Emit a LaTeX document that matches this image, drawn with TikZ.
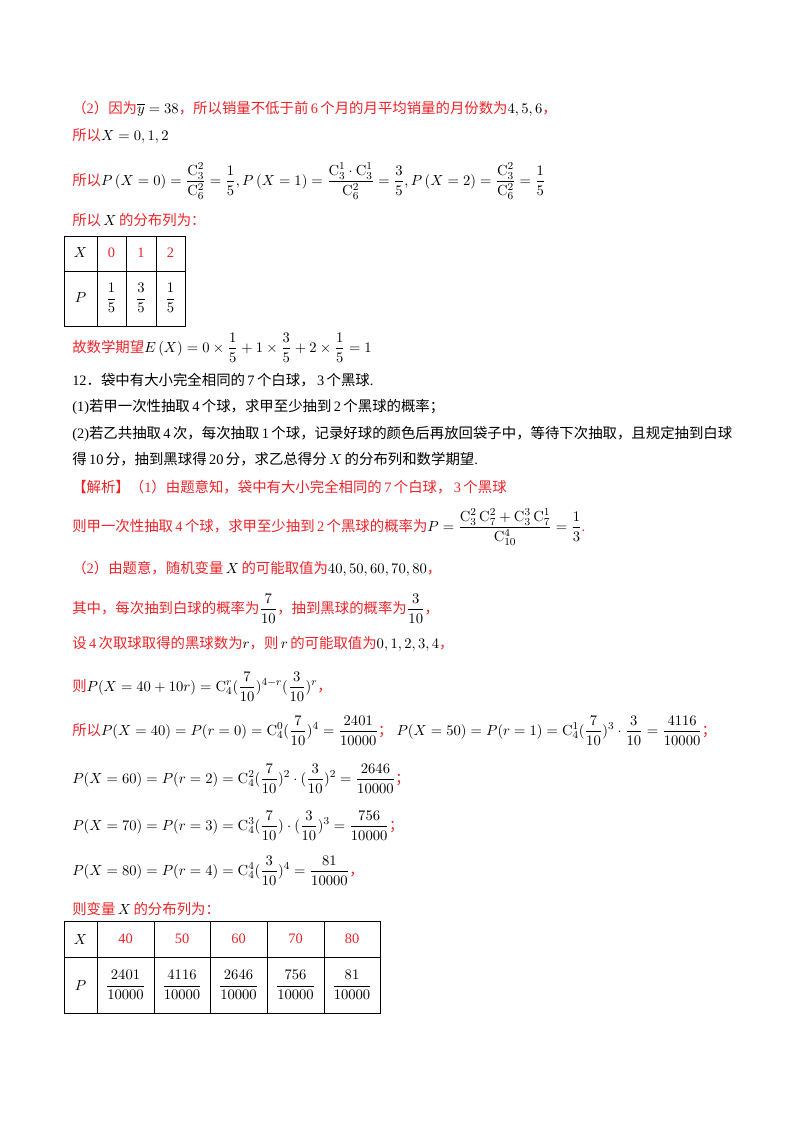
\documentclass[tikz,border=0pt]{standalone}
\usepackage{amsmath}
\usepackage[no-math]{fontspec}
\setmainfont{Noto Sans CJK SC}
\newfontfamily\lat{Liberation Serif}
\definecolor{hred}{RGB}{235,35,40}
\newcommand\n[1]{{\lat\,#1\,}}
\newcommand\m[1]{{\lat #1}}
\begin{document}
\begin{tikzpicture}[x=0.75pt,y=-0.75pt,
  tx/.style={anchor=base west,inner sep=0pt,font=\fontsize{10.8}{12}\selectfont},
  rt/.style={tx,text=hred},
  bt/.style={tx,text=black},
  cell/.style={anchor=center,inner sep=0pt,font=\fontsize{10.8}{12}\selectfont}]
\useasboundingbox (0,0) rectangle (800,1132);
\node[rt] (l1) at (72,113) {（\m{2}）因为\textcolor{black}{$\overline{y}=38$}，所以销量不低于前\n{6}个月的月平均销量的月份数为\textcolor{black}{$4,5,6$}，};
\node[rt] (l2) at (72,140) {所以\textcolor{black}{$X=0,1,2$}};
\node[rt] (l3) at (72,185) {所以\textcolor{black}{$P\left(X=0\right)=\dfrac{\mathrm{C}_3^2}{\mathrm{C}_6^2}=\dfrac15,P\left(X=1\right)=\dfrac{\mathrm{C}_3^1\cdot\mathrm{C}_3^1}{\mathrm{C}_6^2}=\dfrac35,P\left(X=2\right)=\dfrac{\mathrm{C}_3^2}{\mathrm{C}_6^2}=\dfrac15$}};
\node[rt] (l4) at (72,225) {所以\textcolor{black}{$\,X\,$}的分布列为：};
% table 1
\draw[line width=0.6pt] (64,236) rectangle (185,326);
\draw (64,271) -- (185,271);
\foreach \xx in {97,126,156} \draw (\xx,236) -- (\xx,326);
\node[cell] (a0) at (80.5,253) {$X$};
\node[cell,text=hred] (a1) at (111.5,253) {\m{0}};
\node[cell,text=hred] (a2) at (141,253) {\m{1}};
\node[cell,text=hred] (a3) at (170.5,253) {\m{2}};
\node[cell] (b0) at (80.5,298) {$P$};
\node[cell] (b1) at (111.5,298) {$\dfrac15$};
\node[cell] (b2) at (141,298) {$\dfrac35$};
\node[cell] (b3) at (170.5,298) {$\dfrac15$};
\node[rt] (l5) at (72,352) {故数学期望\textcolor{black}{$E\left(X\right)=0\times\dfrac15+1\times\dfrac35+2\times\dfrac15=1$}};
\node[bt] (q1) at (72,385) {\m{12}．袋中有大小完全相同的\n{7}个白球，\n{3}个黑球\m{.}};
\node[bt] (q2) at (72,411) {\m{(1)}若甲一次性抽取\n{4}个球，求甲至少抽到\n{2}个黑球的概率；};
\node[bt] (q3) at (72,438) {\m{(2)}若乙共抽取\n{4}次，每次抽取\n{1}个球，记录好球的颜色后再放回袋子中，等待下次抽取，且规定抽到白球};
\node[bt] (q4) at (72,464) {得\n{10}分，抽到黑球得\n{20}分，求乙总得分\,$X$\,的分布列和数学期望\m{.}};
\node[rt] (s1) at (72,492) {【解析】（\m{1}）由题意知，袋中有大小完全相同的\n{7}个白球，\n{3}个黑球};
\node[rt] (s2) at (72,531) {则甲一次性抽取\n{4}个球，求甲至少抽到\n{2}个黑球的概率为\textcolor{black}{$P=\dfrac{\mathrm{C}_3^2\,\mathrm{C}_7^2+\mathrm{C}_3^3\,\mathrm{C}_7^1}{\mathrm{C}_{10}^4}=\dfrac13$}\m{.}};
\node[rt] (s3) at (72,573) {（\m{2}）由题意，随机变量\textcolor{black}{$\,X\,$}的可能取值为\textcolor{black}{$40,50,60,70,80$}，};
\node[rt] (s4) at (72,613) {其中，每次抽到白球的概率为\textcolor{black}{$\dfrac{7}{10}$}，抽到黑球的概率为\textcolor{black}{$\dfrac{3}{10}$}，};
\node[rt] (s5) at (72,648) {设\n{4}次取球取得的黑球数为\textcolor{black}{$r$}，则\textcolor{black}{$\,r\,$}的可能取值为\textcolor{black}{$0,1,2,3,4$}，};
\node[rt] (s6) at (72,691) {则\textcolor{black}{$P(X=40+10r)=\mathrm{C}_4^r(\dfrac{7}{10})^{4-r}(\dfrac{3}{10})^r$}，};
\node[rt] (s7) at (72,735) {所以\textcolor{black}{$P(X=40)=P(r=0)=\mathrm{C}_4^0(\dfrac{7}{10})^4=\dfrac{2401}{10000}$}；\textcolor{black}{$\;P(X=50)=P(r=1)=\mathrm{C}_4^1(\dfrac{7}{10})^3\cdot\dfrac{3}{10}=\dfrac{4116}{10000}$}；};
\node[rt] (s8) at (72,783) {\textcolor{black}{$P(X=60)=P(r=2)=\mathrm{C}_4^2(\dfrac{7}{10})^2\cdot(\dfrac{3}{10})^2=\dfrac{2646}{10000}$}；};
\node[rt] (s9) at (72,830) {\textcolor{black}{$P(X=70)=P(r=3)=\mathrm{C}_4^3(\dfrac{7}{10})\cdot(\dfrac{3}{10})^3=\dfrac{756}{10000}$}；};
\node[rt] (s10) at (72,875) {\textcolor{black}{$P(X=80)=P(r=4)=\mathrm{C}_4^4(\dfrac{3}{10})^4=\dfrac{81}{10000}$}，};
\node[rt] (s11) at (72,914) {则变量\textcolor{black}{$\,X\,$}的分布列为：};
% table 2
\draw[line width=0.6pt] (64,921) rectangle (380,1013);
\draw (64,957) -- (380,957);
\foreach \xx in {97,154,210,267,324} \draw (\xx,921) -- (\xx,1013);
\node[cell] (c0) at (80.5,939) {$X$};
\node[cell,text=hred] (c1) at (125.5,939) {\m{40}};
\node[cell,text=hred] (c2) at (182,939) {\m{50}};
\node[cell,text=hred] (c3) at (238.5,939) {\m{60}};
\node[cell,text=hred] (c4) at (295.5,939) {\m{70}};
\node[cell,text=hred] (c5) at (352,939) {\m{80}};
\node[cell] (d0) at (80.5,985) {$P$};
\node[cell] (d1) at (125.5,985) {$\dfrac{2401}{10000}$};
\node[cell] (d2) at (182,985) {$\dfrac{4116}{10000}$};
\node[cell] (d3) at (238.5,985) {$\dfrac{2646}{10000}$};
\node[cell] (d4) at (295.5,985) {$\dfrac{756}{10000}$};
\node[cell] (d5) at (352,985) {$\dfrac{81}{10000}$};
\end{tikzpicture}
\end{document}
